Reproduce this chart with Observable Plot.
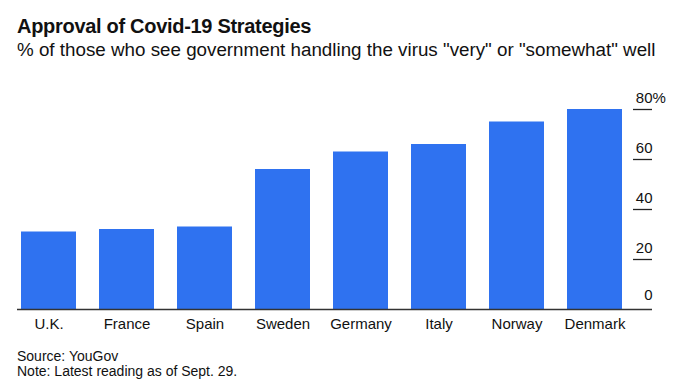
<!DOCTYPE html>
<html>
<head>
<meta charset="utf-8">
<script src="https://cdn.jsdelivr.net/npm/d3@7"></script>
<script src="https://cdn.jsdelivr.net/npm/@observablehq/plot@0.6"></script>
<style>
  html, body { margin: 0; padding: 0; background: #fff; }
  body { width: 679px; height: 389px; position: relative; overflow: hidden; font-family: "Liberation Sans", Arial, sans-serif; color: #111; }
  #title { position: absolute; left: 17px; top: 15px; font-size: 20px; line-height: 23px; font-weight: bold; letter-spacing: -0.3px; white-space: nowrap; }
  #subtitle { position: absolute; left: 17px; top: 39px; font-size: 18.8px; line-height: 22px; white-space: nowrap; }
  #chart { position: absolute; left: 0; top: 70px; }
  #footer { position: absolute; left: 17px; top: 349px; font-size: 14px; line-height: 15px; }
</style>
</head>
<body>
<div id="title">Approval of Covid-19 Strategies</div>
<div id="subtitle">% of those who see government handling the virus "very" or "somewhat" well</div>
<div id="chart"></div>
<div id="footer">Source: YouGov<br>Note: Latest reading as of Sept. 29.</div>
<script>
const countries = ["U.K.", "France", "Spain", "Sweden", "Germany", "Italy", "Norway", "Denmark"];
const approval = [31, 32, 33, 56, 63, 66, 75, 80];
const yTicks = [0, 20, 40, 60, 80];

const data = countries.map((c, i) => ({country: c, value: approval[i]}));
const font = "'Liberation Sans', Arial, sans-serif";

const chart = Plot.plot({
  width: 679,
  height: 270,
  marginLeft: 17,
  marginRight: 27,
  marginTop: 39,
  marginBottom: 31,
  style: {fontFamily: font, background: "transparent"},
  x: {domain: countries, range: [17, 625], paddingInner: 0.3, paddingOuter: 0, axis: null},
  y: {domain: [0, 80], axis: null},
  marks: [
    Plot.barY(data, {x: "country", y: "value", fill: "#2f72f0"}),
    Plot.ruleY([0], {stroke: "#333", strokeWidth: 1.5}),
    Plot.ruleY(yTicks.filter(d => d > 0), {stroke: "#222", strokeWidth: 1.3, insetLeft: 616}),
    Plot.text(yTicks.filter(d => d > 0), {y: d => d, text: d => String(d), frameAnchor: "right", textAnchor: "end", dy: -11.5, fontSize: 15, fill: "#111"}),
    Plot.text([0], {y: d => d, text: d => String(d), frameAnchor: "right", textAnchor: "end", dy: -14.5, fontSize: 15, fill: "#111"}),
    Plot.text([80], {y: d => d, text: () => "%", frameAnchor: "right", textAnchor: "start", dy: -11.5, fontSize: 15, fill: "#111"}),
    Plot.text(countries, {x: d => d, text: d => d, frameAnchor: "bottom", dy: 19, fontSize: 15, fill: "#111"})
  ]
});
document.getElementById("chart").appendChild(chart);
</script>
</body>
</html>
